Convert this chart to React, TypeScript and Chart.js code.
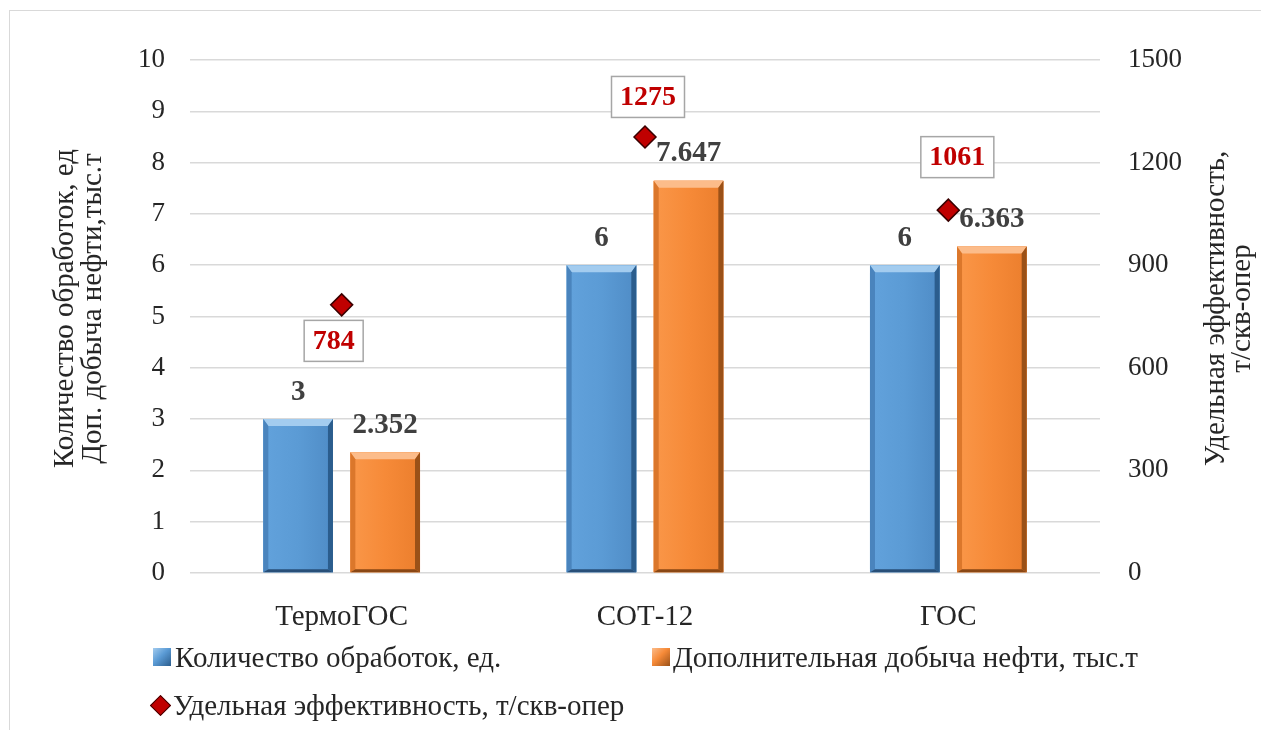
import React, { useEffect, useRef } from 'react';
import { Chart, registerables } from 'chart.js';

Chart.register(...registerables);

const categories = ['ТермоГОС', 'СОТ-12', 'ГОС'];
const treatments = [3, 6, 6];
const extraOil = [2.352, 7.647, 6.363];
const efficiency = [784, 1275, 1061];
const leftTicks = [0, 1, 2, 3, 4, 5, 6, 7, 8, 9, 10];
const rightTicks = [0, 300, 600, 900, 1200, 1500];
const seriesNames = [
  'Количество обработок, ед.',
  'Дополнительная добыча нефти, тыс.т',
  'Удельная эффективность, т/скв-опер',
];
const leftTitle = ['Количество обработок, ед', 'Доп. добыча нефти,тыс.т'];
const rightTitle = ['Удельная эффективность,', 'т/скв-опер'];
const effLabelDx = [-8, 3, 9];
const effLabelDy = [36, -40, -53];

const FONT = "'Liberation Serif', 'Times New Roman', serif";
const TEXT = '#262626';

const PALETTES = [
  { faceL: '#62A2DC', faceM: '#5B9BD5', faceR: '#4F8CC6', top: '#A3CCEF', left: '#4A84BD', right: '#2B5D8D', bottom: '#284F78' },
  { faceL: '#FA9749', faceM: '#F68A38', faceR: '#EB7E2D', top: '#FCBC8A', left: '#DB772B', right: '#9A5118', bottom: '#8A4714' },
];

function poly(ctx: CanvasRenderingContext2D, pts: number[][], fill: string) {
  ctx.beginPath();
  ctx.moveTo(pts[0][0], pts[0][1]);
  for (let i = 1; i < pts.length; i++) ctx.lineTo(pts[i][0], pts[i][1]);
  ctx.closePath();
  ctx.fillStyle = fill;
  ctx.fill();
}

function drawBevel(ctx: CanvasRenderingContext2D, l: number, t: number, r: number, b: number, p: any) {
  const bv = 7;
  const sv = 5;
  const g = ctx.createLinearGradient(l, 0, r, 0);
  g.addColorStop(0, p.faceL);
  g.addColorStop(0.5, p.faceM);
  g.addColorStop(1, p.faceR);
  ctx.fillStyle = g;
  ctx.fillRect(l, t, r - l, b - t);
  poly(ctx, [[l, t], [r, t], [r - sv, t + bv], [l + sv, t + bv]], p.top);
  poly(ctx, [[l, t], [l + sv, t + bv], [l + sv, b - 3], [l, b]], p.left);
  poly(ctx, [[r, t], [r - sv, t + bv], [r - sv, b - 3], [r, b]], p.right);
  poly(ctx, [[l, b], [l + sv, b - 3], [r - sv, b - 3], [r, b]], p.bottom);
}

const bevelPlugin = {
  id: 'bevel',
  afterDatasetDraw(chart: any, args: any) {
    const meta = args.meta;
    if (meta.type !== 'bar') return;
    const pal = PALETTES[args.index];
    const ctx = chart.ctx;
    ctx.save();
    meta.data.forEach((el: any) => {
      const { x, y, base, width } = el.getProps(['x', 'y', 'base', 'width'], true);
      drawBevel(ctx, x - width / 2, y, x + width / 2, base, pal);
    });
    ctx.restore();
  },
};

const overlayPlugin = {
  id: 'overlay',
  afterDraw(chart: any) {
    const ctx: CanvasRenderingContext2D = chart.ctx;
    const ca = chart.chartArea;
    const cy = (ca.top + ca.bottom) / 2 - 8;
    ctx.save();
    ctx.fillStyle = TEXT;
    ctx.font = `29px ${FONT}`;
    ctx.textAlign = 'center';
    ctx.textBaseline = 'alphabetic';
    const drawRot = (text: string, bx: number) => {
      ctx.save();
      ctx.translate(bx, cy);
      ctx.rotate(-Math.PI / 2);
      ctx.fillText(text, 0, 0);
      ctx.restore();
    };
    drawRot(leftTitle[0], ca.left - 117);
    drawRot(leftTitle[1], ca.left - 89);
    drawRot(rightTitle[0], ca.right + 124);
    drawRot(rightTitle[1], ca.right + 150);

    // bar value labels
    ctx.font = `bold 29px ${FONT}`;
    ctx.fillStyle = '#404040';
    ctx.textBaseline = 'middle';
    [0, 1].forEach((di) => {
      const meta = chart.getDatasetMeta(di);
      const data = chart.data.datasets[di].data;
      meta.data.forEach((el: any, i: number) => {
        ctx.fillText(String(data[i]), el.x, el.y - 27);
      });
    });

    // efficiency labels in boxes
    ctx.font = `bold 28px ${FONT}`;
    const m = chart.getDatasetMeta(2);
    m.data.forEach((el: any, i: number) => {
      const text = String(efficiency[i]);
      const w = ctx.measureText(text).width + 17;
      const h = 41;
      const cx = el.x + effLabelDx[i];
      const cyy = el.y + effLabelDy[i];
      ctx.fillStyle = '#ffffff';
      ctx.fillRect(cx - w / 2, cyy - h / 2, w, h);
      ctx.strokeStyle = '#A6A6A6';
      ctx.lineWidth = 1.5;
      ctx.strokeRect(cx - w / 2, cyy - h / 2, w, h);
      ctx.fillStyle = '#C00000';
      ctx.fillText(text, cx, cyy + 1);
    });
    ctx.restore();
  },
};

export default function App() {
  const canvasRef = useRef<HTMLCanvasElement | null>(null);

  useEffect(() => {
    if (!canvasRef.current) return;
    const chart = new Chart(canvasRef.current, {
      type: 'bar',
      data: {
        labels: categories,
        datasets: [
          {
            type: 'bar',
            label: seriesNames[0],
            data: treatments,
            yAxisID: 'y',
            backgroundColor: '#5B9BD5',
            borderWidth: 0,
            categoryPercentage: 0.574,
            barPercentage: 0.8,
            order: 1,
          },
          {
            type: 'bar',
            label: seriesNames[1],
            data: extraOil,
            yAxisID: 'y',
            backgroundColor: '#F68A38',
            borderWidth: 0,
            categoryPercentage: 0.574,
            barPercentage: 0.8,
            order: 1,
          },
          {
            type: 'line',
            label: seriesNames[2],
            data: efficiency,
            yAxisID: 'y1',
            showLine: false,
            pointStyle: 'rectRot',
            pointRadius: 11,
            pointBackgroundColor: '#C00000',
            pointBorderColor: '#3A0000',
            pointBorderWidth: 1.5,
            order: 0,
          } as any,
        ],
      },
      options: {
        responsive: false,
        animation: false,
        devicePixelRatio: 1,
        layout: { padding: { top: 60, bottom: 0, left: 0, right: 0 } },
        plugins: {
          legend: { display: false },
          tooltip: { enabled: false },
          title: { display: false },
        },
        scales: {
          x: {
            grid: { display: false },
            border: { display: false },
            ticks: { color: TEXT, font: { family: FONT, size: 29 }, padding: 19, maxRotation: 0 },
            afterFit: (s: any) => { s.height = 157; },
          },
          y: {
            position: 'left',
            min: 0,
            max: 10,
            grid: { color: '#D9D9D9', lineWidth: 1.5, drawTicks: false },
            border: { display: false },
            ticks: { color: TEXT, font: { family: FONT, size: 27 }, padding: 25, callback: (v: any) => String(v) },
            afterBuildTicks: (s: any) => { s.ticks = leftTicks.map((v) => ({ value: v })); },
            afterFit: (s: any) => { s.width = 190; },
          },
          y1: {
            position: 'right',
            min: 0,
            max: 1500,
            grid: { display: false, drawTicks: false },
            border: { display: false },
            ticks: { color: TEXT, font: { family: FONT, size: 27 }, padding: 28, callback: (v: any) => String(v) },
            afterBuildTicks: (s: any) => { s.ticks = rightTicks.map((v) => ({ value: v })); },
            afterFit: (s: any) => { s.width = 161; },
          },
        },
      } as any,
      plugins: [bevelPlugin, overlayPlugin],
    });
    return () => chart.destroy();
  }, []);

  const legendText: React.CSSProperties = {
    position: 'absolute',
    fontFamily: FONT,
    fontSize: 29,
    lineHeight: '30px',
    color: TEXT,
    whiteSpace: 'nowrap',
  };

  return (
    <div style={{ position: 'absolute', left: 0, top: 0, width: 1261, height: 730, overflow: 'hidden', background: '#fff' }}>
      <div style={{ position: 'absolute', left: 9, top: 10, width: 1400, height: 900, border: '1.5px solid #D9D9D9' }} />
      <canvas ref={canvasRef} width={1261} height={730} style={{ position: 'absolute', left: 0, top: 0, width: 1261, height: 730 }} />
      <div style={{ position: 'absolute', left: 153, top: 648, width: 18, height: 18, background: 'linear-gradient(135deg, #A3CCEF 0%, #5B9BD5 45%, #2B5D8D 100%)' }} />
      <div style={{ ...legendText, left: 175, top: 642 }}>{seriesNames[0]}</div>
      <div style={{ position: 'absolute', left: 652, top: 648, width: 18, height: 18, background: 'linear-gradient(135deg, #FCBC8A 0%, #F68A38 45%, #9A5118 100%)' }} />
      <div style={{ ...legendText, left: 673, top: 642 }}>{seriesNames[1]}</div>
      <div style={{ position: 'absolute', left: 153, top: 698, width: 13, height: 13, background: '#C00000', border: '1px solid #3A0000', transform: 'rotate(45deg)' }} />
      <div style={{ ...legendText, left: 173, top: 690 }}>{seriesNames[2]}</div>
    </div>
  );
}
